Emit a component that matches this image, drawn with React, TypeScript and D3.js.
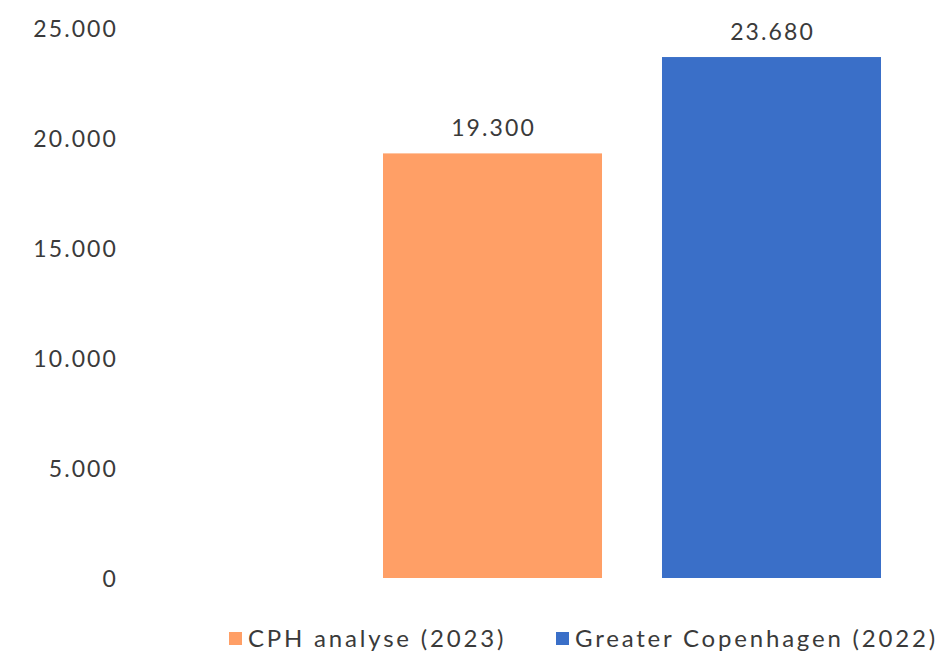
import * as d3 from "d3";
import { useEffect, useRef } from "react";

const series = ["CPH analyse (2023)", "Greater Copenhagen (2022)"];
const values = [19300, 23680];
const colors = ["#FF9F66", "#3A6FC8"];
const yTicks = [0, 5000, 10000, 15000, 20000, 25000];

const fmt = (v: number) => d3.format(",")(v).replace(/,/g, ".");

export default function App() {
    const svgRef = useRef<SVGSVGElement | null>(null);

    useEffect(() => {
        if (!svgRef.current) return;
        const svg = d3.select(svgRef.current);
        svg.selectAll("*").remove();

        const W = 948;
        const H = 653;
        const font = "Lato, 'Open Sans', sans-serif";
        const textColor = "#3a3a3a";

        const y = d3.scaleLinear().domain([0, 25000]).range([578, 28]);
        const x = d3
            .scaleBand<string>()
            .domain(series)
            .range([383, 881])
            .paddingInner(0.215)
            .paddingOuter(0);

        // y axis labels, no line
        const yAxis = svg
            .append("g")
            .attr("transform", "translate(118,0)")
            .call(d3.axisLeft(y).tickValues(yTicks).tickSize(0).tickPadding(0).tickFormat((d) => fmt(+d)));
        yAxis.select(".domain").remove();
        yAxis
            .selectAll("text")
            .attr("font-family", font)
            .attr("font-size", 23)
            .attr("letter-spacing", 2.1)
            .attr("fill", textColor)
            .attr("dy", "0.36em");

        svg.append("g")
            .selectAll("rect")
            .data(values)
            .join("rect")
            .attr("x", (_, i) => x(series[i])!)
            .attr("width", x.bandwidth())
            .attr("y", (d) => y(d))
            .attr("height", (d) => y(0) - y(d))
            .attr("fill", (_, i) => colors[i]);

        svg.append("g")
            .selectAll("text")
            .data(values)
            .join("text")
            .attr("x", (_, i) => x(series[i])! + x.bandwidth() / 2 + 1)
            .attr("y", (d) => y(d) - 17)
            .attr("text-anchor", "middle")
            .attr("font-family", font)
            .attr("font-size", 23)
            .attr("letter-spacing", 2.1)
            .attr("fill", textColor)
            .text((d) => fmt(d));

        // legend
        const legendX = [229, 556];
        const leg = svg
            .append("g")
            .selectAll("g")
            .data(series)
            .join("g")
            .attr("transform", (_, i) => `translate(${legendX[i]},632)`);
        leg.append("rect")
            .attr("width", 13)
            .attr("height", 13)
            .attr("fill", (_, i) => colors[i]);
        leg.append("text")
            .attr("x", 19)
            .attr("y", 15)
            .attr("font-family", font)
            .attr("font-size", 24)
            .attr("letter-spacing", 2.8)
            .attr("fill", textColor)
            .text((d) => d);

        svg.attr("width", W).attr("height", H);
    }, []);

    return (
        <svg
            ref={svgRef}
            width={948}
            height={653}
            style={{ position: "absolute", left: 0, top: 0, background: "#fff" }}
        />
    );
}
